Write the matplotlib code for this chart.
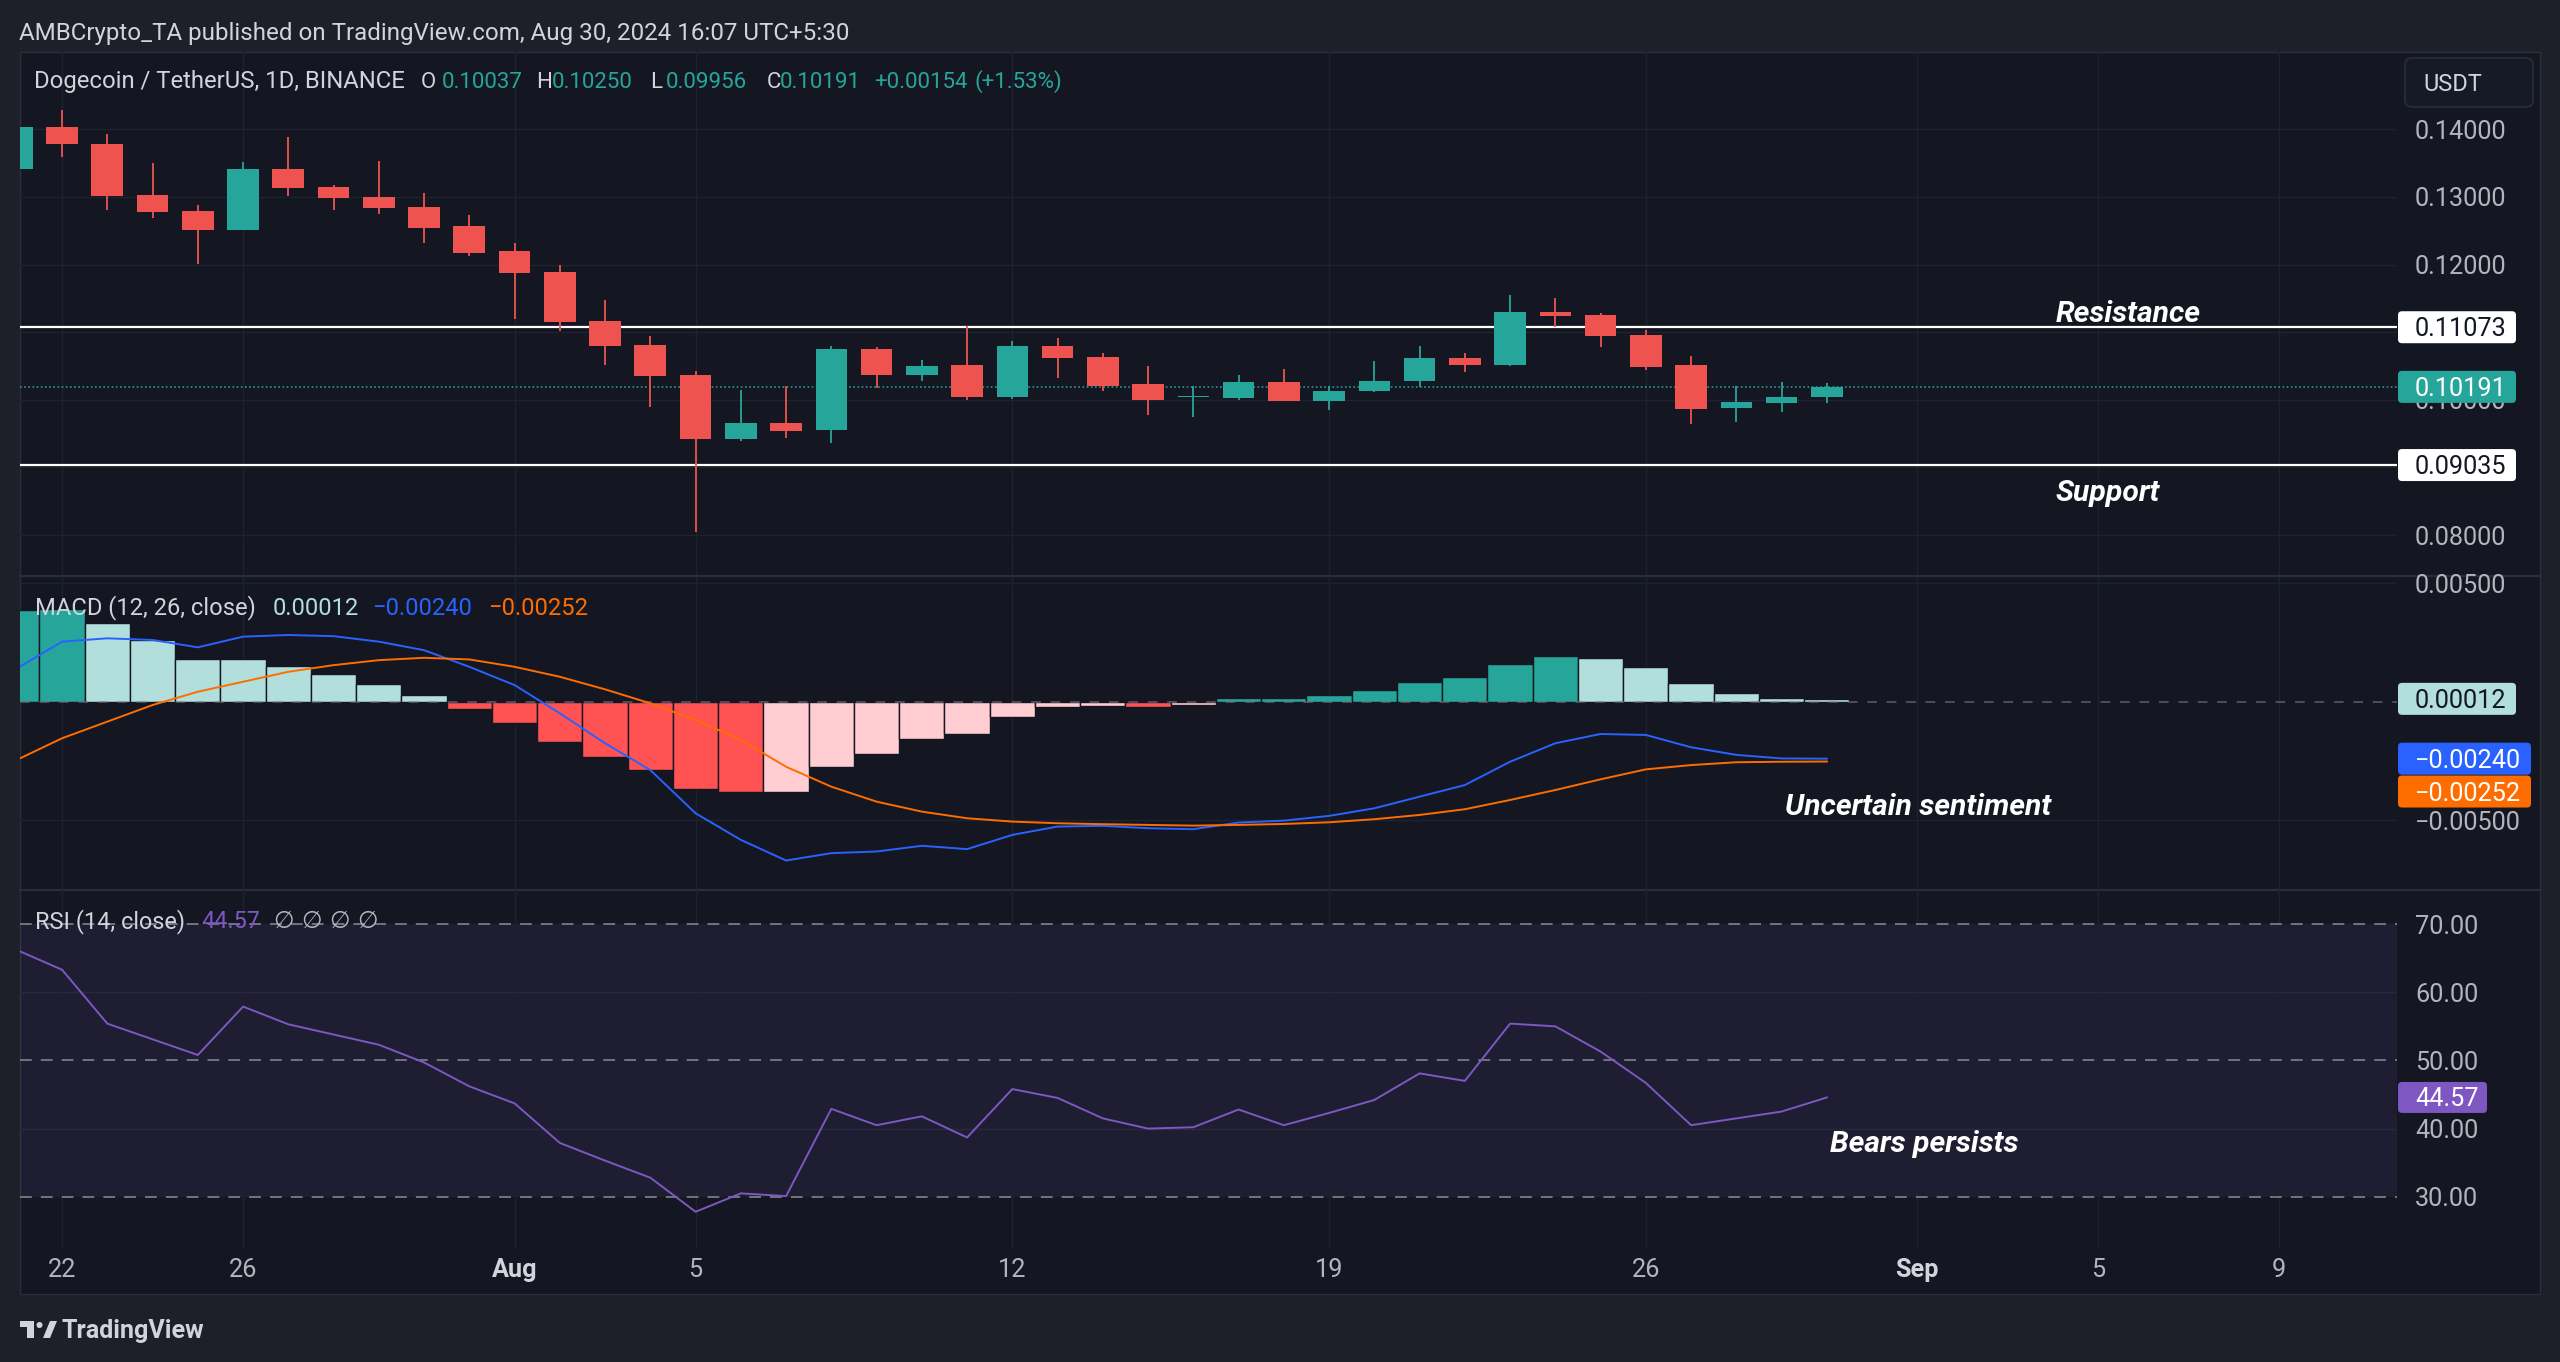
import numpy as np
import pandas as pd
import matplotlib
matplotlib.use("Agg")
import matplotlib.pyplot as plt
import matplotlib.dates as mdates
import matplotlib.transforms as mtrans
from matplotlib.patches import Rectangle, FancyBboxPatch, Circle, Polygon
from matplotlib.ticker import FuncFormatter

# ---------------- data ----------------
dates = pd.date_range("2024-07-21", "2024-08-30", freq="D")

opens = [0.13410, 0.14034, 0.13787, 0.13027, 0.12790, 0.12514, 0.13417, 0.13141, 0.12998, 0.12850,
         0.12563, 0.12193, 0.11897, 0.11162, 0.10811, 0.10372, 0.09420, 0.09652, 0.09553, 0.10752,
         0.10372, 0.10515, 0.10037, 0.10792, 0.10639, 0.10234, 0.10040, 0.10022, 0.10269, 0.09987,
         0.10126, 0.10273, 0.10614, 0.10515, 0.11295, 0.11255, 0.10964, 0.10515, 0.09874, 0.09953,
         0.10037]
highs = [0.14150, 0.14281, 0.13935, 0.13501, 0.12874, 0.13516, 0.13886, 0.13180, 0.13526, 0.13062,
         0.12736, 0.12321, 0.11996, 0.11483, 0.10940, 0.10432, 0.10145, 0.10209, 0.10792, 0.10777,
         0.10589, 0.11088, 0.10876, 0.10910, 0.10688, 0.10506, 0.10200, 0.10372, 0.10451, 0.10209,
         0.10580, 0.10792, 0.10693, 0.11552, 0.11507, 0.11285, 0.11034, 0.10654, 0.10200, 0.10259,
         0.10250]
lows = [0.13300, 0.13590, 0.12800, 0.12687, 0.12001, 0.12504, 0.13012, 0.12800, 0.12751, 0.12317,
        0.12124, 0.11196, 0.11014, 0.10515, 0.09899, 0.08038, 0.09395, 0.09430, 0.09356, 0.10175,
        0.10283, 0.10002, 0.10012, 0.10323, 0.10135, 0.09780, 0.09741, 0.09997, 0.09977, 0.09849,
        0.10111, 0.10195, 0.10407, 0.10500, 0.11073, 0.10777, 0.10441, 0.09642, 0.09677, 0.09825,
        0.09956]
closes = [0.14034, 0.13777, 0.13012, 0.12780, 0.12514, 0.13417, 0.13131, 0.12988, 0.12835, 0.12544,
          0.12173, 0.11882, 0.11147, 0.10792, 0.10357, 0.09420, 0.09652, 0.09533, 0.10752, 0.10372,
          0.10506, 0.10037, 0.10792, 0.10619, 0.10209, 0.10002, 0.10055, 0.10269, 0.09987, 0.10135,
          0.10283, 0.10614, 0.10515, 0.11295, 0.11246, 0.10950, 0.10491, 0.09864, 0.09963, 0.10037,
          0.10191]

macd_hist = [0.00385, 0.00390, 0.00330, 0.00260, 0.00180, 0.00178, 0.00152, 0.00115, 0.00074, 0.00028,
             -0.00032, -0.00088, -0.00168, -0.00231, -0.00288, -0.00369, -0.00382, -0.00379, -0.00276, -0.00219,
             -0.00157, -0.00136, -0.00066, -0.00024, -0.00017, -0.00021, -0.00014, 0.00014, 0.00016, 0.00028,
             0.00049, 0.00084, 0.00105, 0.00159, 0.00192, 0.00182, 0.00145, 0.00077, 0.00035, 0.00016,
             0.00012]
macd_line = [0.00140, 0.00253, 0.00267, 0.00260, 0.00229, 0.00274, 0.00281, 0.00276, 0.00253, 0.00217,
             0.00147, 0.00070, -0.00049, -0.00175, -0.00288, -0.00470, -0.00582, -0.00669, -0.00638, -0.00631,
             -0.00607, -0.00621, -0.00561, -0.00526, -0.00523, -0.00533, -0.00537, -0.00509, -0.00501, -0.00481,
             -0.00449, -0.00400, -0.00351, -0.00253, -0.00175, -0.00136, -0.00140, -0.00192, -0.00224, -0.00239,
             -0.00240]
signal_line = [-0.00245, -0.00154, -0.00084, -0.00014, 0.00042, 0.00084, 0.00126, 0.00154, 0.00175, 0.00185,
               0.00178, 0.00147, 0.00105, 0.00052, -0.00007, -0.00077, -0.00161, -0.00274, -0.00358, -0.00421,
               -0.00463, -0.00491, -0.00505, -0.00512, -0.00516, -0.00519, -0.00522, -0.00519, -0.00515, -0.00508,
               -0.00495, -0.00477, -0.00453, -0.00414, -0.00372, -0.00327, -0.00285, -0.00267, -0.00255, -0.00253,
               -0.00252]
rsi = [66.2, 63.3, 55.4, 53.1, 50.8, 57.9, 55.3, 53.8, 52.3, 49.7,
       46.2, 43.7, 37.9, 35.3, 32.8, 27.8, 30.5, 30.1, 42.9, 40.5,
       41.8, 38.7, 45.8, 44.5, 41.5, 40.0, 40.2, 42.8, 40.5, 42.3,
       44.2, 48.1, 47.0, 55.4, 55.0, 51.3, 46.7, 40.5, 41.5, 42.5,
       44.57]

resistance = 0.11073
support = 0.09035
last_close = 0.10191
last_hist, last_macd, last_signal, last_rsi = 0.00012, -0.00240, -0.00252, 44.57

price_ticks = [0.08, 0.09, 0.10, 0.11, 0.12, 0.13, 0.14]
price_labelled = [0.08, 0.10, 0.12, 0.13, 0.14]
macd_ticks = [-0.005, 0.0, 0.005]
macd_labelled = [-0.005, 0.005]
rsi_ticks = [30, 40, 50, 60, 70]
rsi_levels = [30, 50, 70]
tick_dates = ["2024-07-22", "2024-07-26", "2024-08-01", "2024-08-05", "2024-08-12",
              "2024-08-19", "2024-08-26", "2024-09-01", "2024-09-05", "2024-09-09"]
tick_labels = ["22", "26", "Aug", "5", "12", "19", "26", "Sep", "5", "9"]

# ---------------- style ----------------
W, H, DPI = 2560, 1362, 100
plt.rcParams["font.family"] = ["Roboto", "DejaVu Sans"]
plt.rcParams["lines.scale_dashes"] = False

OUTER = "#1e2029"
PANEL = "#141721"
GRID = "#1e2230"
SEP = "#2a2e39"
AXTXT = "#b2b5be"
TXT = "#d1d4dc"
UP = "#26a69a"
DN = "#ef5350"
BLUE = "#2962ff"
ORANGE = "#ff6d00"
PURPLE = "#7e57c2"
H_UP, H_UP_L, H_DN, H_DN_L = "#26a69a", "#b2dfdb", "#ff5252", "#ffcdd2"

fig = plt.figure(figsize=(W / DPI, H / DPI), dpi=DPI)
fig.patch.set_facecolor(OUTER)
R = fig.canvas.get_renderer()


def text_width(s, fs, **kw):
    t = fig.text(0, 0, s, fontsize=fs, **kw)
    w = t.get_window_extent(R).width
    t.remove()
    return w


def fit(s, width, **kw):
    return 20 * width / text_width(s, 20, **kw)


def cap_px(fs):
    return 0.711 * fs * DPI / 72


fs_axis = fit("0.14000", 92)
fs_head = fit("AMBCrypto_TA published on TradingView.com, Aug 30, 2024 16:07 UTC+5:30", 830)
fs_leg = fit("Dogecoin / TetherUS, 1D, BINANCE", 370)
fs_val = fit("0.10037", 81)
fs_macd = fit("MACD (12, 26, close)", 220)
fs_rsi = fit("RSI (14, close)", 150)
fs_ann = fit("Uncertain sentiment", 266, weight="bold", style="italic")
fs_usdt = fit("USDT", 59)
fs_tv = fit("TradingView", 142, weight="bold")

# background axes (pixel coordinates)
bg = fig.add_axes([0, 0, 1, 1], zorder=-5)
bg.set_xlim(0, W)
bg.set_ylim(H, 0)
bg.axis("off")
bg.add_patch(Rectangle((20, 52), 2520, 1242, fc=PANEL, ec=SEP, lw=1))
bg.plot([20, 2540], [576, 576], color=SEP, lw=1.6)
bg.plot([20, 2540], [890, 890], color=SEP, lw=1.6)

PLOT_L, PLOT_R = 20, 2397


def pane(y0, y1):
    ax = fig.add_axes([PLOT_L / W, 1 - y1 / H, (PLOT_R - PLOT_L) / W, (y1 - y0) / H], zorder=1)
    ax.set_facecolor("none")
    for s in ax.spines.values():
        s.set_visible(False)
    return ax


x = mdates.date2num(dates)
x_ref = mdates.date2num(pd.Timestamp("2024-07-22"))
xlim = (x_ref - 0.93, x_ref + 51.6)
xt = mdates.date2num(pd.to_datetime(tick_dates))

ax_p = pane(52, 575)
ax_m = pane(577, 890)
ax_r = pane(890, 1249)

minus = lambda s: s.replace("-", "\u2212")


def fmt_sel(labelled, spec):
    def f(v, p):
        if any(abs(v - l) < 1e-9 for l in labelled):
            return minus(format(v, spec))
        return ""
    return FuncFormatter(f)


for ax in (ax_p, ax_m, ax_r):
    ax.set_xlim(*xlim)
    ax.set_xticks(xt)
    ax.grid(axis="x", color=GRID, lw=1.0)
    ax.set_axisbelow(True)
    ax.yaxis.tick_right()
    ax.tick_params(axis="y", length=0, pad=(2415 - PLOT_R) * 72 / DPI, labelsize=fs_axis,
                   labelcolor=AXTXT, left=False, labelleft=False, right=False, labelright=True)
    ax.tick_params(axis="x", length=0)

ax_p.tick_params(axis="x", labelbottom=False)
ax_m.tick_params(axis="x", labelbottom=False)
ax_r.set_xticklabels(tick_labels)
ax_r.tick_params(axis="x", pad=6.5, labelsize=fs_axis, labelcolor=AXTXT)
for lbl in ax_r.get_xticklabels():
    if lbl.get_text() in ("Aug", "Sep"):
        lbl.set_fontweight("bold")
        lbl.set_color(TXT)


def value_box(ax, yval, text, fc, tc, w, h=32, yoff=0):
    base = mtrans.blended_transform_factory(bg.transData, ax.transData)
    anchor = mtrans.ScaledTranslation(2398, yval, base)
    box = FancyBboxPatch((0, -h / 2 - yoff), w, h, boxstyle="round,pad=0,rounding_size=4",
                         fc=fc, ec="none", transform=anchor, clip_on=False, zorder=6)
    ax.add_artist(box)
    ax.text(17, -yoff - cap_px(fs_axis) / 2, text, transform=anchor, ha="left", va="baseline",
            fontsize=fs_axis, color=tc, clip_on=False, zorder=7)


# ---------------- price pane ----------------
o, hgh, low, c = map(np.array, (opens, highs, lows, closes))
col = np.where(c >= o, UP, DN)
ax_p.set_ylim(0.07409, 0.15143)
ax_p.set_yticks(price_ticks)
ax_p.yaxis.set_major_formatter(fmt_sel(price_labelled, ".5f"))
for v in price_ticks:
    ax_p.axhline(v, color=GRID, lw=1.0, zorder=0.5)
ax_p.axhline(last_close, color=UP, lw=1.1, ls=(0, (1.2, 1.8)), zorder=2)
ax_p.axhline(resistance, color="white", lw=1.6, zorder=2.2)
ax_p.axhline(support, color="white", lw=1.6, zorder=2.2)
ax_p.vlines(x, low, hgh, colors=col, lw=1.3, zorder=3)
ax_p.bar(x, np.maximum(np.abs(c - o), 0.00015), bottom=np.minimum(o, c), width=0.70,
         color=col, lw=0, zorder=4)
value_box(ax_p, resistance, "0.11073", "white", "#131722", 118)
value_box(ax_p, last_close, "0.10191", UP, "white", 118)
value_box(ax_p, support, "0.09035", "white", "#131722", 118)

# ---------------- MACD pane ----------------
hist = np.array(macd_hist)
hcol = []
for i, v in enumerate(hist):
    prev = hist[i - 1] if i > 0 else -np.inf
    if v >= 0:
        hcol.append(H_UP if v >= prev else H_UP_L)
    else:
        hcol.append(H_DN_L if v > prev else H_DN)
ax_m.set_ylim(-0.007932, 0.005253)
ax_m.set_yticks(macd_ticks)
ax_m.yaxis.set_major_formatter(fmt_sel(macd_labelled, ".5f"))
for v in (-0.005, 0.005):
    ax_m.axhline(v, color=GRID, lw=1.0, zorder=0.5)
ax_m.bar(x, hist, width=1.0, color=hcol, edgecolor=PANEL, lw=1.0, zorder=2)
ax_m.axhline(0, color="#787b86", lw=1.1, ls=(0, (7, 7)), alpha=0.7, zorder=2.5)
ax_m.plot(x, macd_line, color=BLUE, lw=1.4, zorder=3)
ax_m.plot(x, signal_line, color=ORANGE, lw=1.4, zorder=3)
value_box(ax_m, last_hist, "0.00012", H_UP_L, "#131722", 118)
value_box(ax_m, last_macd, minus("-0.00240"), BLUE, "white", 133)
value_box(ax_m, last_signal, minus("-0.00252"), ORANGE, "white", 133, yoff=30)

# ---------------- RSI pane ----------------
ax_r.set_ylim(22.34, 75.0)
ax_r.set_yticks(rsi_ticks)
ax_r.yaxis.set_major_formatter(FuncFormatter(lambda v, p: f"{v:.2f}"))
ax_r.axhspan(30, 70, fc=PURPLE, alpha=0.10, lw=0, zorder=0.3)
for v in (40, 60):
    ax_r.axhline(v, color="#2a2840", lw=1.0, zorder=0.5)
for v in rsi_levels:
    ax_r.axhline(v, color="#787b86", lw=1.3, ls=(0, (8.5, 6.5)), zorder=1)
ax_r.plot(x, rsi, color=PURPLE, lw=1.4, zorder=3)
value_box(ax_r, last_rsi, "44.57", PURPLE, "white", 89, h=31)

# ---------------- overlay texts ----------------
ov = fig.add_axes([0, 0, 1, 1], zorder=10)
ov.set_xlim(0, W)
ov.set_ylim(H, 0)
ov.axis("off")
ov.patch.set_alpha(0)


def ptxt(xp, yc, s, fs, color, **kw):
    ov.text(xp, yc + cap_px(fs) / 2, s, fontsize=fs, color=color, ha="left", va="baseline", **kw)


ptxt(19, 31, "AMBCrypto_TA published on TradingView.com, Aug 30, 2024 16:07 UTC+5:30", fs_head, TXT)

ptxt(34, 80, "Dogecoin / TetherUS, 1D, BINANCE", fs_leg, TXT)
for lx, s, cc in [(421, "O", TXT), (442, "0.10037", UP), (536, "H", TXT), (552, "0.10250", UP),
                  (650, "L", TXT), (666, "0.09956", UP), (767, "C", TXT), (780, "0.10191", UP),
                  (874, "+0.00154", UP), (975, "(+1.53%)", UP)]:
    ptxt(lx, 80, s, fs_val, cc)

ptxt(35, 606.5, "MACD (12, 26, close)", fs_macd, TXT)
ptxt(273, 606.5, "0.00012", fs_macd, H_UP_L)
ptxt(372, 606.5, minus("-0.00240"), fs_macd, BLUE)
ptxt(488, 606.5, minus("-0.00252"), fs_macd, ORANGE)

ptxt(35, 920, "RSI (14, close)", fs_rsi, TXT)
ptxt(201, 920, "44.57", fs_rsi, PURPLE)
ptxt(274, 920, "\u2205 \u2205 \u2205 \u2205", fs_rsi, AXTXT, family=["DejaVu Sans"])

ann = dict(weight="bold", style="italic")
ptxt(2056, 311.7, "Resistance", fs_ann, "white", **ann)
ptxt(2056, 490, "Support", fs_ann, "white", **ann)
ptxt(1785, 804, "Uncertain sentiment", fs_ann, "white", **ann)
ptxt(1830, 1141, "Bears persists", fs_ann, "white", **ann)

# USDT box
ov.add_patch(FancyBboxPatch((2405, 58), 128, 49, boxstyle="round,pad=0,rounding_size=7",
                            fc="#161a25", ec=SEP, lw=1.2))
ptxt(2423, 83, "USDT", fs_usdt, TXT)

# footer logo
ov.add_patch(Rectangle((20, 1321), 14, 6, fc=TXT, ec="none"))
ov.add_patch(Rectangle((27, 1321), 7, 17, fc=TXT, ec="none"))
ov.add_patch(Circle((39.5, 1325), 3, fc=TXT, ec="none"))
ov.add_patch(Polygon([(43, 1338), (50, 1321), (57, 1321), (50, 1338)], closed=True, fc=TXT, ec="none"))
ptxt(62, 1329, "TradingView", fs_tv, TXT, weight="bold")

fig.savefig("out.png", dpi=DPI, facecolor=fig.get_facecolor())
